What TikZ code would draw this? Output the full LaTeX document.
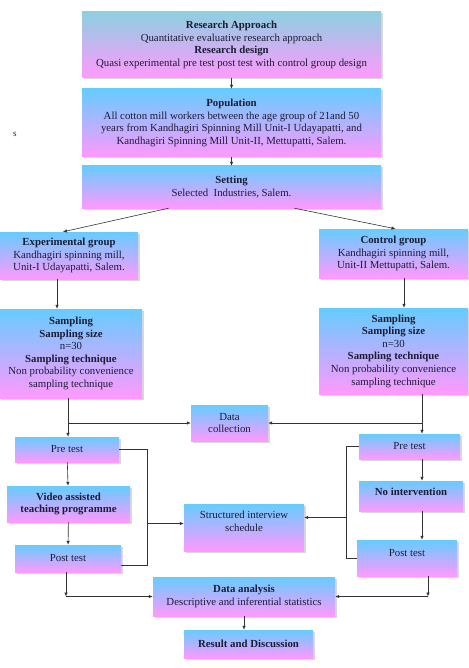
\documentclass[tikz,border=0pt]{standalone}
\usepackage{fontspec}
\setmainfont{Liberation Serif}
\usetikzlibrary{positioning,arrows.meta,shadows,calc}
\definecolor{boxtop}{HTML}{66CCFF}
\definecolor{firsttop}{HTML}{8ED0E0}
\definecolor{boxbot}{HTML}{FF99FF}
\definecolor{linecolor}{HTML}{333333}
\definecolor{textcolor}{HTML}{1C1C33}

\begin{document}
\begin{tikzpicture}[
  x=1pt, y=-1pt,
  font=\fontsize{10.8}{12.6}\selectfont,
  stage/.style={top color=boxtop, bottom color=boxbot, align=center, inner sep=1pt, text=textcolor,
    drop shadow={shadow xshift=1.5pt, shadow yshift=-1.5pt, fill=black!30}},
  arr/.style={-{Latex[length=4pt,width=3.5pt]}, draw=linecolor, line width=0.6pt},
  link/.style={draw=linecolor, line width=0.6pt},
]
\useasboundingbox (0,0) rectangle (468,668);

% Top column of stages
\node[stage, top color=firsttop, minimum width=299, minimum height=66] (approach) at (231.5,45)
  {\textbf{Research Approach}\\Quantitative evaluative research approach\\\textbf{Research design}\\Quasi experimental pre test post test with control group design};
\node[stage, minimum width=299, minimum height=68] (population) at (231.5,123)
  {\textbf{Population}\\All cotton mill workers between the age group of 21and 50\\years from Kandhagiri Spinning Mill Unit-I Udayapatti, and\\Kandhagiri Spinning Mill Unit-II, Mettupatti, Salem.};
\node[stage, minimum width=299, minimum height=42] (setting) at (231.5,187)
  {\textbf{Setting}\\Selected\ \ Industries, Salem.};
\node[font=\fontsize{9}{10}\selectfont, text=textcolor] (stray) at (15,134) {s};

% The two groups
\node[stage, minimum width=138, minimum height=47] (expgroup) at (69,255.5)
  {\textbf{Experimental group}\\Kandhagiri spinning mill,\\Unit-I Udayapatti, Salem.};
\node[stage, minimum width=149, minimum height=49] (ctrlgroup) at (393.5,253.5)
  {\textbf{Control group}\\Kandhagiri spinning mill,\\Unit-II Mettupatti, Salem.};
\node[stage, minimum width=142, minimum height=89] (expsampling) at (71,353.5)
  {\textbf{Sampling}\\\textbf{Sampling size}\\n=30\\\textbf{Sampling technique}\\Non probability convenience\\sampling technique};
\node[stage, minimum width=149, minimum height=86] (ctrlsampling) at (393.5,351)
  {\textbf{Sampling}\\\textbf{Sampling size}\\n=30\\\textbf{Sampling technique}\\Non probability convenience\\sampling technique};

% Middle column
\node[stage, minimum width=77, minimum height=36] (datacoll) at (229.5,423) {Data\\collection};
\node[stage, minimum width=120, minimum height=47, text depth=12pt] (interview) at (244,527.5) {Structured interview\\schedule};

% Experimental arm
\node[stage, minimum width=104, minimum height=25] (pretestE) at (67,449.5) {Pre test};
\node[stage, minimum width=123, minimum height=36] (video) at (68.5,504) {\textbf{Video assisted}\\\textbf{teaching programme}};
\node[stage, minimum width=106, minimum height=27] (posttestE) at (68,558.5) {Post test};

% Control arm
\node[stage, minimum width=101, minimum height=25] (pretestC) at (409.5,446.5) {Pre test};
\node[stage, minimum width=104, minimum height=30, text depth=8pt] (nointerv) at (411,496) {\textbf{No intervention}};
\node[stage, minimum width=100, minimum height=36, text depth=10pt] (posttestC) at (407,558) {Post test};

% Bottom stages
\node[stage, minimum width=182, minimum height=39] (analysis) at (244,596.5)
  {\textbf{Data analysis}\\Descriptive and inferential statistics};
\node[stage, minimum width=129, minimum height=28] (result) at (248.5,644) {\textbf{Result and Discussion}};

% Helper points
\coordinate (ltrunk) at ([xshift=-3pt]expsampling.south);
\coordinate (rtrunk) at ([xshift=28.5pt]ctrlsampling.south);
\coordinate (lbr) at (147,446);
\coordinate (rbr) at (346,446);
\coordinate (ljoin) at ([xshift=-2pt]posttestE.south |- analysis.west);
\coordinate (rdrop) at ([xshift=21pt]posttestC.south);
\coordinate (rjoin) at (rdrop |- analysis.east);

% Connectors down the top
\draw[arr] (setting.north |- approach.south) -- (setting.north |- population.north);
\draw[arr] (setting.north |- population.south) -- (setting.north);
\draw[arr] ($(setting.south west)!0.29!(setting.south east)$) -- ([xshift=-6pt]expgroup.north);
\draw[arr] ($(setting.south west)!0.71!(setting.south east)$) -- ([xshift=2pt]ctrlgroup.north);
\draw[arr] ([xshift=-12pt]expgroup.south) -- ([xshift=-14pt]expsampling.north);
\draw[arr] ([xshift=10.5pt]ctrlgroup.south) -- ([xshift=10.5pt]ctrlsampling.north);

% Trunks to pre tests and data collection
\draw[arr] (ltrunk) -- (ltrunk |- pretestE.north);
\draw[arr] (ltrunk |- datacoll.west) -- (datacoll.west);
\draw[arr] (rtrunk) -- (rtrunk |- pretestC.north);
\draw[arr] (rtrunk |- datacoll.east) -- (datacoll.east);

% Experimental arm
\draw[arr] (pretestE) -- (video);
\draw[arr] (video) -- (posttestE);
\draw[link] (pretestE.east) -- (pretestE.east -| lbr) -- ([yshift=-7pt]posttestE.east -| lbr) -- ([yshift=-7pt]posttestE.east);
\draw[arr] ([yshift=4pt]interview.west -| lbr) -- ([yshift=4pt]interview.west);

% Control arm
\draw[arr] (pretestC.south -| rtrunk) -- (nointerv.north -| rtrunk);
\draw[arr] (nointerv.south -| rtrunk) -- (posttestC.north -| rtrunk);
\draw[link] (pretestC.west) -- (pretestC.west -| rbr) -- (posttestC.west -| rbr) -- (posttestC.west);
\draw[arr] ([yshift=10pt]interview.east -| rbr) -- ([yshift=10pt]interview.east);

% Into the analysis
\draw[arr] (ljoin |- posttestE.south) -- (ljoin);
\draw[arr] (ljoin) -- (analysis.west);
\draw[arr] (rdrop) -- (rjoin);
\draw[arr] (rjoin) -- (analysis.east);
\draw[arr] (analysis.south) -- (analysis.south |- result.north);

\end{tikzpicture}
\end{document}
